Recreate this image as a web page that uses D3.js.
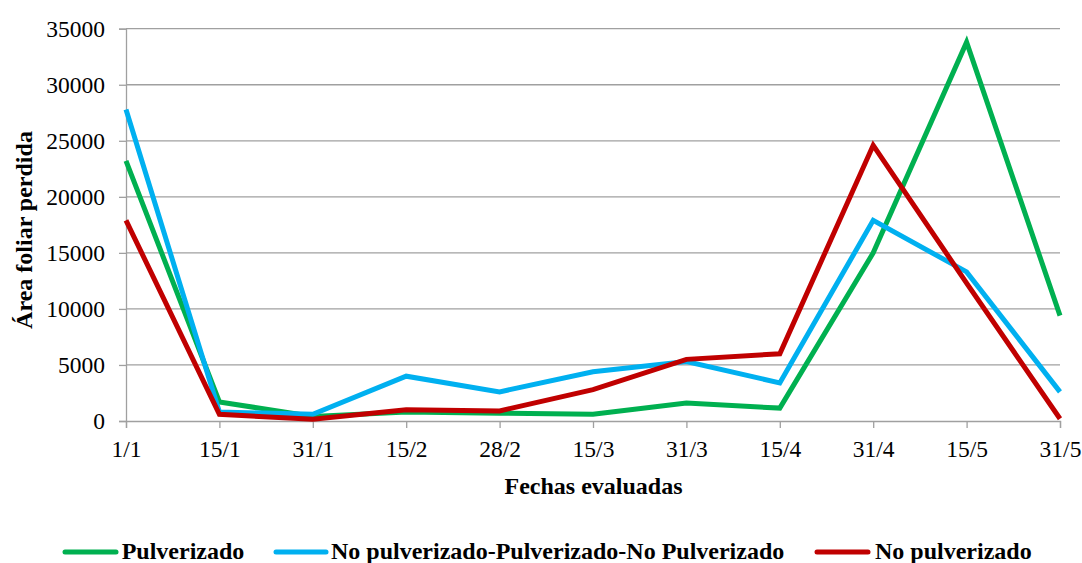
<!DOCTYPE html>
<html><head><meta charset="utf-8">
<script src="https://cdn.jsdelivr.net/npm/d3@7"></script>
<style>body{margin:0;background:#fff}svg{display:block}</style>
</head><body><svg id="c" width="1082" height="563"></svg>
<script>
const categories = ["1/1","15/1","31/1","15/2","28/2","15/3","31/3","15/4","31/4","15/5","31/5"];
const pulverizado = [23200,1700,400,800,700,600,1600,1150,15000,33800,9400];
const noPulvPulvNoPulv = [27800,800,600,4000,2600,4400,5300,3400,17900,13300,2600];
const noPulverizado = [17900,600,150,1000,900,2800,5500,6000,24600,12300,200];
const yTicks = [0,5000,10000,15000,20000,25000,30000,35000];
const seriesNames = ["Pulverizado","No pulverizado-Pulverizado-No Pulverizado","No pulverizado"];
const seriesColors = ["#00b050","#00b0f0","#c00000"];
const seriesData = [pulverizado,noPulvPulvNoPulv,noPulverizado];

const FONT = "'Liberation Serif'";
const svg = d3.select("#c");
const x = d3.scalePoint().domain(categories).range([126,1060]);
const y = d3.scaleLinear().domain([0,35000]).range([421,28.7]);
const grid = "#a0a0a0";

svg.append("g").selectAll("line").data(yTicks.filter(d=>d>0)).join("line")
  .attr("x1",126).attr("x2",1060).attr("y1",d=>y(d)).attr("y2",d=>y(d))
  .attr("stroke",grid).attr("stroke-width",1.3);

const yAxis = svg.append("g").attr("transform","translate(126,0)")
  .call(d3.axisLeft(y).tickValues(yTicks).tickFormat(d3.format("d")).tickSize(7).tickPadding(14));
const xAxis = svg.append("g").attr("transform","translate(0,421)")
  .call(d3.axisBottom(x).tickSize(7).tickPadding(12));
[yAxis,xAxis].forEach(a=>{
  a.attr("font-family",null).attr("font-size",null);
  a.select(".domain").attr("stroke",grid).attr("stroke-width",1.3);
  a.selectAll(".tick line").attr("stroke",grid).attr("stroke-width",1.3);
  a.selectAll(".tick text").style("font-family",FONT).style("font-size","23.5px").attr("fill","#000");
});

const line = d3.line().x((d,i)=>x(categories[i])).y(d=>y(d));
seriesData.forEach((s,k)=>{
  svg.append("path").datum(s).attr("d",line).attr("fill","none")
    .attr("stroke",seriesColors[k]).attr("stroke-width",5).attr("stroke-linejoin","miter");
});

svg.append("text").attr("x",593.5).attr("y",494).attr("text-anchor","middle")
  .style("font-family",FONT).style("font-size","24px").style("font-weight","bold").text("Fechas evaluadas");
svg.append("text").attr("transform","translate(32,230) rotate(-90)").attr("text-anchor","middle")
  .style("font-family",FONT).style("font-size","24px").style("font-weight","bold").text("Área foliar perdida");

const legLine = [[63,118],[274,328],[815,870]];
const legText = [121.7,331,875];
seriesNames.forEach((n,k)=>{
  const g = svg.append("g");
  g.append("line").attr("x1",legLine[k][0]+2).attr("x2",legLine[k][1]-2).attr("y1",552).attr("y2",552)
    .attr("stroke",seriesColors[k]).attr("stroke-width",5).attr("stroke-linecap","round");
  g.append("text").attr("x",legText[k]).attr("y",559)
    .style("font-family",FONT).style("font-size","24px").style("font-weight","bold").text(n);
});
</script></body></html>
